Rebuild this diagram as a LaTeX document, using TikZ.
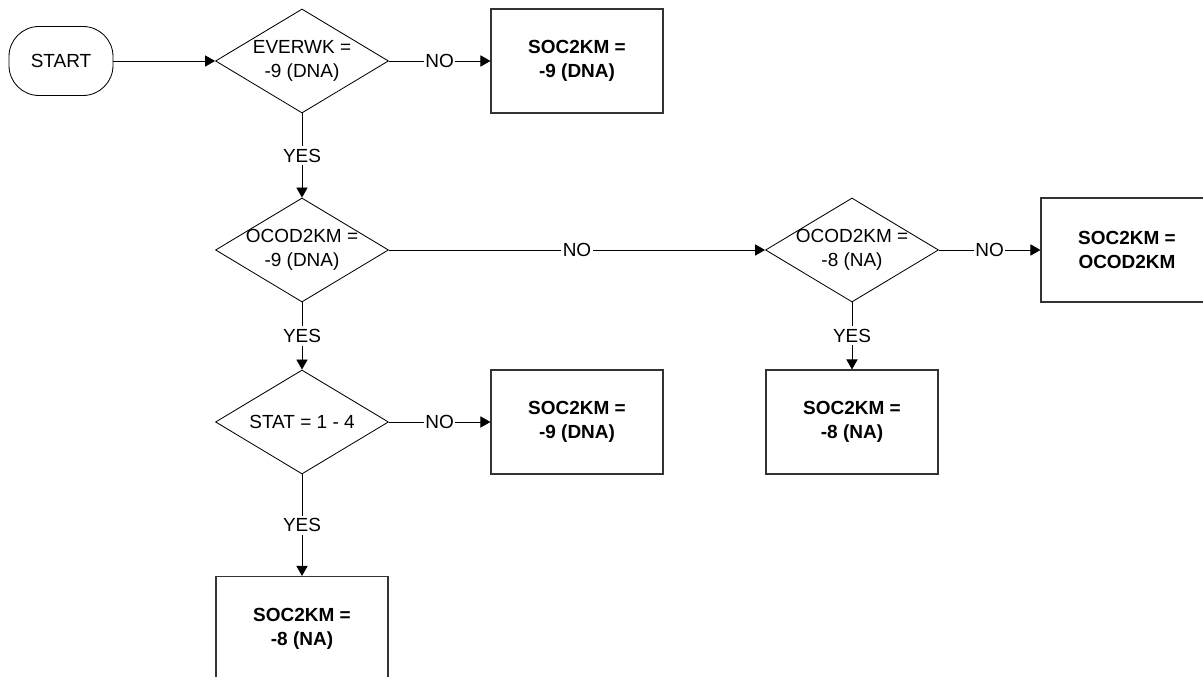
\documentclass[tikz,border=0pt]{standalone}
\usepackage{fontspec}
\setmainfont{Liberation Sans}
\usetikzlibrary{positioning,arrows.meta,shapes}

\begin{document}
\begin{tikzpicture}[
    font=\fontsize{13.5}{17}\selectfont,
    SE/.style={rectangle, rounded corners=0.75cm, draw=black, line width=0.6pt,
      align=center, minimum width=2.6cm, minimum height=1.725cm},
    DC/.style={diamond, draw=black, line width=0.6pt, inner sep=0pt,
      minimum width=4.325cm, minimum height=2.6cm},
    DT/.style={align=center, inner sep=0pt},
    RB/.style={rectangle, draw=black!80, line width=0.8pt, align=center,
      font=\fontsize{13.5}{17}\selectfont\bfseries,
      minimum width=4.3cm, minimum height=2.6cm},
    lbl/.style={fill=white, inner xsep=1pt, inner ysep=2pt},
    arr/.style={-{Triangle[length=0.25cm,width=0.28cm]}, line width=0.6pt}
  ]
    \useasboundingbox (0,0) rectangle (30.075,16.925);
    \clip (0,0) rectangle (30.075,16.925);

    %% Start
    \node[SE] (st) at (1.525,15.4) {START};

    %% EVERWK (atas)
    \node[DC] (ev) at (7.55,15.4) {};
    \node[DT] (evt) at (ev.center) {EVERWK =\\-9 (DNA)};
    \node[RB] (evb) at (14.425,15.4) {SOC2KM =\\-9 (DNA)};

    %% OCOD2KM = -9 (tengah kiri)
    \node[DC] (oc9) at (7.55,10.675) {};
    \node[DT] (oc9t) at (oc9.center) {OCOD2KM =\\-9 (DNA)};

    %% OCOD2KM = -8 (tengah kanan)
    \node[DC] (oc8) at (21.3,10.675) {};
    \node[DT] (oc8t) at (oc8.center) {OCOD2KM =\\-8 (NA)};
    \node[RB] (ocb) at (28.175,10.675) {SOC2KM =\\OCOD2KM};
    \node[RB] (oc8b) at (21.3,6.375) {SOC2KM =\\-8 (NA)};

    %% STAT (bawah)
    \node[DC] (sta) at (7.55,6.375) {};
    \node[DT] (stat) at (sta.center) {STAT = 1 - 4};
    \node[RB] (stab) at (14.425,6.375) {SOC2KM =\\-9 (DNA)};
    \node[RB] (nab) at (7.55,1.2125) {SOC2KM =\\-8 (NA)};

    %% Arrows
    \draw[arr] (st.east)  -- (ev.west);
    \draw[arr] (ev.east)  -- (evb.west)  node[midway,lbl]{NO};
    \draw[arr] (ev.south) -- (oc9.north) node[midway,lbl]{YES};
    \draw[arr] (oc9.east) -- (oc8.west)  node[midway,lbl]{NO};
    \draw[arr] (oc8.east) -- (ocb.west)  node[midway,lbl]{NO};
    \draw[arr] (oc8.south) -- (oc8b.north) node[midway,lbl]{YES};
    \draw[arr] (oc9.south) -- (sta.north) node[midway,lbl]{YES};
    \draw[arr] (sta.east) -- (stab.west) node[midway,lbl]{NO};
    \draw[arr] (sta.south) -- (nab.north) node[midway,lbl]{YES};
  \end{tikzpicture}
\end{document}
